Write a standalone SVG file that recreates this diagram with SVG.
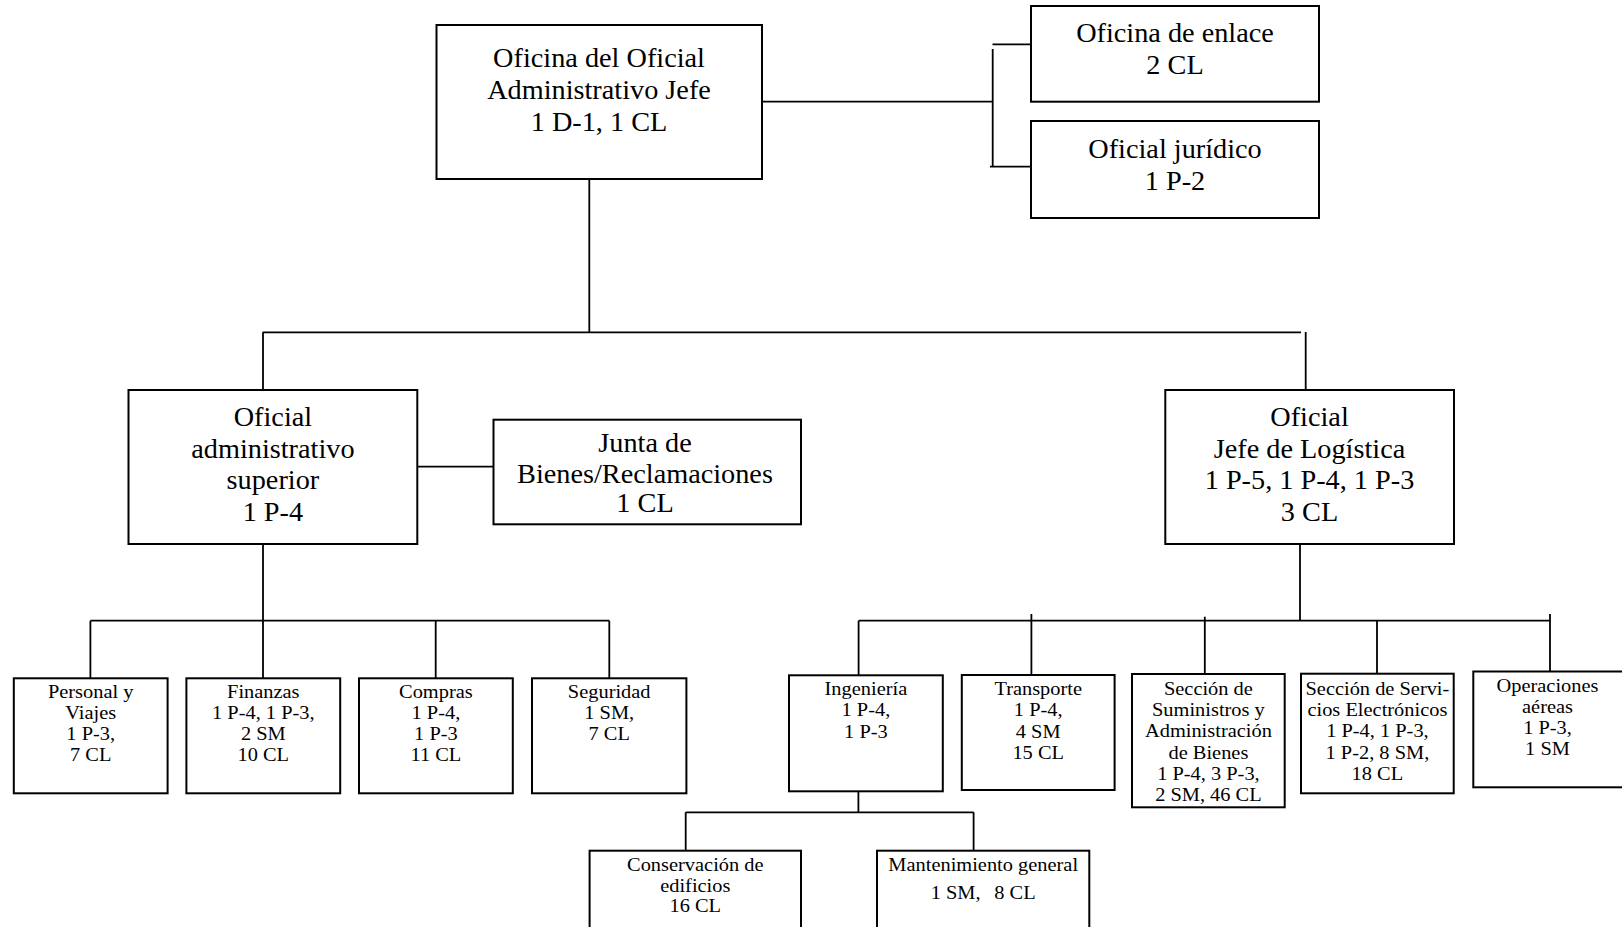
<svg xmlns="http://www.w3.org/2000/svg" width="1622" height="927" viewBox="0 0 1622 927">
<style>
.box{fill:#fff;stroke:#000;stroke-width:2}
.ln{stroke:#000;stroke-width:1.8;fill:none}
.t{font-family:"Liberation Serif","Times New Roman",serif;font-size:26.8px;text-anchor:middle;fill:#000}
.s{font-family:"Liberation Serif","Times New Roman",serif;font-size:19px;text-anchor:middle;fill:#000}
</style>
<rect width="1622" height="927" fill="#fff"/>
<g id="connectors">
<path class="ln" d="M762,101.7H992.7M992.7,49V167M992.5,44.3H1031M990,166.7H1031"/>
<path class="ln" d="M589.3,179V332.3M262.7,332.3H1301M263,332.3V390M1305.7,332V390"/>
<path class="ln" d="M417.3,466.7H493.5"/>
<path class="ln" d="M263,544V620.7M90.4,620.7H609.3M90.4,620.7V678.3M263,620.7V678.3M435.7,620.7V678.3M609.3,620.7V678.3"/>
<path class="ln" d="M1300,544V620.7M858.6,620.7H1550M858.6,620.7V675.3M1031.4,614V675M1204.8,616.7V674M1377,620.7V673.7M1550,614V671.5"/>
<path class="ln" d="M858.4,791.3V812.3M685.7,812.3H973.6M685.7,812.3V850.7M973.6,812.3V850.7"/>
</g>
<g id="n-jefe">
<rect class="box" x="436.5" y="25" width="325.5" height="154"/>
<g transform="matrix(1.055 0 0 1 599 0)" class="t">
<text x="0" y="67.5">Oficina del Oficial</text>
<text x="0" y="99.5">Administrativo Jefe</text>
<text x="0" y="131">1 D-1, 1 CL</text>
</g>
</g>
<g id="n-enlace">
<rect class="box" x="1031" y="6" width="288" height="95.7"/>
<g transform="matrix(1.055 0 0 1 1175 0)" class="t">
<text x="0" y="42.5">Oficina de enlace</text>
<text x="0" y="74">2 CL</text>
</g>
</g>
<g id="n-juridico">
<rect class="box" x="1031" y="121" width="288" height="97"/>
<g transform="matrix(1.055 0 0 1 1175 0)" class="t">
<text x="0" y="158">Oficial jurídico</text>
<text x="0" y="190">1 P-2</text>
</g>
</g>
<g id="n-admsup">
<rect class="box" x="128.5" y="390" width="288.8" height="154"/>
<g transform="matrix(1.055 0 0 1 272.9 0)" class="t">
<text x="0" y="426">Oficial</text>
<text x="0" y="457.7">administrativo</text>
<text x="0" y="489.3">superior</text>
<text x="0" y="521">1 P-4</text>
</g>
</g>
<g id="n-junta">
<rect class="box" x="493.5" y="419.7" width="307.5" height="104.6"/>
<g transform="matrix(1.055 0 0 1 645 0)" class="t">
<text x="0" y="452.5">Junta de</text>
<text x="0" y="483">Bienes/Reclamaciones</text>
<text x="0" y="512">1 CL</text>
</g>
</g>
<g id="n-logistica">
<rect class="box" x="1165.3" y="390" width="288.7" height="154"/>
<g transform="matrix(1.055 0 0 1 1309.5 0)" class="t">
<text x="0" y="426">Oficial</text>
<text x="0" y="458">Jefe de Logística</text>
<text x="0" y="489.5">1 P-5, 1 P-4, 1 P-3</text>
<text x="0" y="521.5">3 CL</text>
</g>
</g>
<g id="n-personal">
<rect class="box" x="13.8" y="678.3" width="153.8" height="115"/>
<g transform="matrix(1.074 0 0 1 90.7 0)" class="s">
<text x="0" y="698">Personal y</text>
<text x="0" y="719">Viajes</text>
<text x="0" y="740">1 P-3,</text>
<text x="0" y="761">7 CL</text>
</g>
</g>
<g id="n-finanzas">
<rect class="box" x="186.4" y="678.3" width="153.8" height="115"/>
<g transform="matrix(1.074 0 0 1 263.3 0)" class="s">
<text x="0" y="698">Finanzas</text>
<text x="0" y="719">1 P-4, 1 P-3,</text>
<text x="0" y="740">2 SM</text>
<text x="0" y="761">10 CL</text>
</g>
</g>
<g id="n-compras">
<rect class="box" x="359" y="678.3" width="153.8" height="115"/>
<g transform="matrix(1.074 0 0 1 435.9 0)" class="s">
<text x="0" y="698">Compras</text>
<text x="0" y="719">1 P-4,</text>
<text x="0" y="740">1 P-3</text>
<text x="0" y="761">11 CL</text>
</g>
</g>
<g id="n-seguridad">
<rect class="box" x="532" y="678.3" width="154.4" height="115"/>
<g transform="matrix(1.074 0 0 1 609.2 0)" class="s">
<text x="0" y="698">Seguridad</text>
<text x="0" y="719">1 SM,</text>
<text x="0" y="740">7 CL</text>
</g>
</g>
<g id="n-ingenieria">
<rect class="box" x="789" y="675.3" width="153.8" height="116"/>
<g transform="matrix(1.074 0 0 1 865.9 0)" class="s">
<text x="0" y="695.3">Ingeniería</text>
<text x="0" y="716.5">1 P-4,</text>
<text x="0" y="737.7">1 P-3</text>
</g>
</g>
<g id="n-transporte">
<rect class="box" x="961.8" y="675" width="152.8" height="115"/>
<g transform="matrix(1.074 0 0 1 1038.2 0)" class="s">
<text x="0" y="695.3">Transporte</text>
<text x="0" y="716.5">1 P-4,</text>
<text x="0" y="737.7">4 SM</text>
<text x="0" y="758.9">15 CL</text>
</g>
</g>
<g id="n-suministros">
<rect class="box" x="1132" y="674" width="152.7" height="133.3"/>
<g transform="matrix(1.074 0 0 1 1208.4 0)" class="s">
<text x="0" y="695">Sección de</text>
<text x="0" y="716.2">Suministros y</text>
<text x="0" y="737.4">Administración</text>
<text x="0" y="758.6">de Bienes</text>
<text x="0" y="779.8">1 P-4, 3 P-3,</text>
<text x="0" y="801">2 SM, 46 CL</text>
</g>
</g>
<g id="n-electronicos">
<rect class="box" x="1301" y="673.7" width="152.7" height="119.6"/>
<g transform="matrix(1.074 0 0 1 1377.4 0)" class="s">
<text x="0" y="695">Sección de Servi-</text>
<text x="0" y="716.2">cios Electrónicos</text>
<text x="0" y="737.4">1 P-4, 1 P-3,</text>
<text x="0" y="758.6">1 P-2, 8 SM,</text>
<text x="0" y="779.8">18 CL</text>
</g>
</g>
<g id="n-operaciones">
<rect class="box" x="1473.3" y="671.5" width="152" height="115.8"/>
<g transform="matrix(1.074 0 0 1 1547.5 0)" class="s">
<text x="0" y="692">Operaciones</text>
<text x="0" y="713">aéreas</text>
<text x="0" y="734">1 P-3,</text>
<text x="0" y="755">1 SM</text>
</g>
</g>
<g id="n-conservacion">
<rect class="box" x="589.6" y="850.7" width="211.4" height="90"/>
<g transform="matrix(1.074 0 0 1 695.3 0)" class="s">
<text x="0" y="871.5">Conservación de</text>
<text x="0" y="892">edificios</text>
<text x="0" y="912.5">16 CL</text>
</g>
</g>
<g id="n-mantenimiento">
<rect class="box" x="877" y="850.7" width="212.3" height="90"/>
<g transform="matrix(1.074 0 0 1 983.2 0)" class="s">
<text x="0" y="871.5">Mantenimiento general</text>
<text x="0" y="899.5">1 SM, <tspan dx="8">8 CL</tspan></text>
</g>
</g>
</svg>
